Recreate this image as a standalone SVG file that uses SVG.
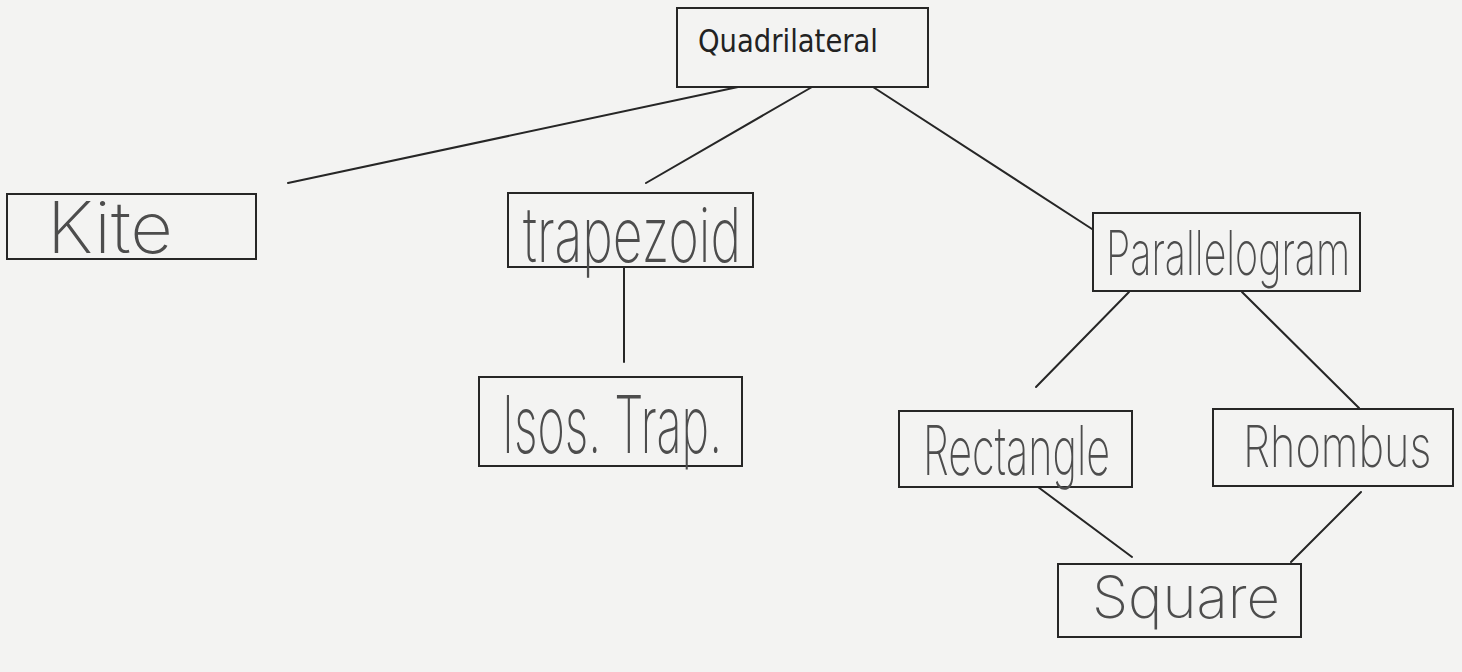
<svg xmlns="http://www.w3.org/2000/svg" width="1462" height="672" viewBox="0 0 1462 672">
<style>
.bg{fill:#f3f3f2}
.box{fill:none;stroke:#262626;stroke-width:2}
.conn line{stroke:#262626;stroke-width:2;stroke-linecap:round}
.hand{font-family:Inter,"Noto Sans","DejaVu Sans",sans-serif;font-weight:250;fill:#4d4d4d}
.typed{font-family:"DejaVu Sans","Liberation Sans",sans-serif;fill:#222}
</style>
<rect class="bg" x="0" y="0" width="1462" height="672"/>
<g id="connectors" class="conn">
<line x1="738" y1="87" x2="288" y2="183"/>
<line x1="812" y1="87" x2="646" y2="183"/>
<line x1="873" y1="87" x2="1092" y2="229"/>
<line x1="624" y1="267" x2="624" y2="362"/>
<line x1="1129" y1="292" x2="1036" y2="387"/>
<line x1="1242" y1="292" x2="1359" y2="408"/>
<line x1="1038" y1="487" x2="1132" y2="557"/>
<line x1="1361" y1="492" x2="1291" y2="562"/>
</g>
<g id="quadrilateral">
<rect class="box" x="677" y="8" width="251" height="79"/>
<text class="typed" x="698" y="52" font-size="32" textLength="180" lengthAdjust="spacingAndGlyphs">Quadrilateral</text>
</g>
<g id="kite">
<rect class="box" x="7" y="194" width="249" height="65"/>
<text class="hand" x="47" y="253" font-size="72" textLength="126" lengthAdjust="spacingAndGlyphs">Kite</text>
</g>
<g id="trapezoid">
<rect class="box" x="508" y="193" width="245" height="74"/>
<text class="hand" x="523" y="262" font-size="76" textLength="218" lengthAdjust="spacingAndGlyphs">trapezoid</text>
</g>
<g id="isos-trap">
<rect class="box" x="479" y="377" width="263" height="89"/>
<text class="hand" x="502" y="453" font-size="80" textLength="220" lengthAdjust="spacingAndGlyphs">Isos. Trap.</text>
</g>
<g id="parallelogram">
<rect class="box" x="1093" y="213" width="267" height="78"/>
<text class="hand" transform="translate(1106 275) scale(0.6 1)" x="0" y="0" font-size="62" textLength="407" lengthAdjust="spacingAndGlyphs">Parallelogram</text>
</g>
<g id="rectangle">
<rect class="box" x="899" y="411" width="233" height="76"/>
<text class="hand" x="923" y="475" font-size="68" textLength="187" lengthAdjust="spacingAndGlyphs">Rectangle</text>
</g>
<g id="rhombus">
<rect class="box" x="1213" y="409" width="240" height="77"/>
<text class="hand" transform="translate(1243 467) scale(0.75 1)" x="0" y="0" font-size="58" textLength="251" lengthAdjust="spacingAndGlyphs">Rhombus</text>
</g>
<g id="square">
<rect class="box" x="1058" y="564" width="243" height="73"/>
<text class="hand" x="1092" y="618" font-size="58" textLength="188" lengthAdjust="spacingAndGlyphs">Square</text>
</g>
</svg>
